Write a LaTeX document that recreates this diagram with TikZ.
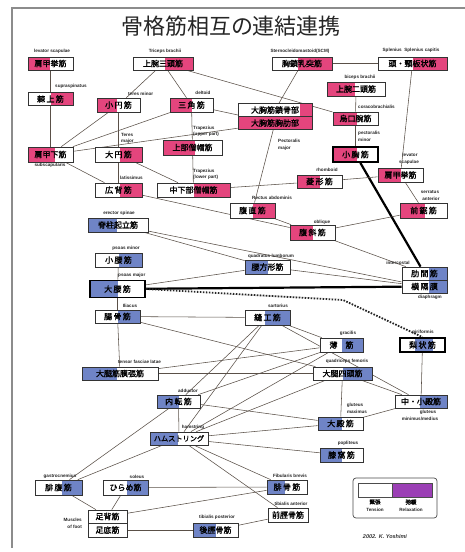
\documentclass[tikz,border=0pt]{standalone}
\usepackage{fontspec}
\newfontfamily\jp[AutoFakeBold=1.5]{Noto Sans CJK JP}
\newfontfamily\lab{Liberation Sans}
\usetikzlibrary{calc}
\definecolor{tc}{HTML}{E4457D}
\definecolor{rc}{HTML}{6F84C6}
\definecolor{lc}{HTML}{5A5048}
\definecolor{pur}{HTML}{9B3FB5}
\pgfdeclarelayer{bg}
\pgfsetlayers{bg,main}
\tikzset{
 mb/.style={draw=black!80, line width=0.7pt, fill=white, inner sep=0pt, font=\jp\bfseries\fontsize{8}{9}\selectfont},
 thickbox/.style={line width=1.8pt, draw=black},
 fp/.style n args={3}{path picture={\fill[#1] ($(path picture bounding box.north west)!#2!(path picture bounding box.north east)$) rectangle ($(path picture bounding box.south west)!#3!(path picture bounding box.south east)$);}},
 lb/.style={font=\lab\bfseries\fontsize{4.6}{5}\selectfont, inner sep=0pt, text=black!85},
 ln/.style={draw=lc, line width=0.55pt},
 thk/.style={draw=black, line width=2.2pt},
 dotl/.style={draw=black!85, line width=1.8pt, dash pattern=on 1.6pt off 1.4pt},
}
\begin{document}
\begin{tikzpicture}[x=1pt,y=-1pt]
\useasboundingbox (0,0) rectangle (465,552);
\begin{pgfonlayer}{bg}
\fill[white] (0,0) rectangle (465,552);
\end{pgfonlayer}
\coordinate (fa) at (465,8);
\coordinate (fb) at (12,8);
\coordinate (fc) at (12,548);
\draw[black!45, line width=1.6pt] (fa) -- (fb) -- (fc);
\node[font=\jp\fontsize{22}{24}\selectfont, inner sep=0pt, text=black!85] (title) at (231,26) {骨格筋相互の連結連携};

% ---- boxes ----
\node[mb, minimum width=45, minimum height=13, fp={tc}{0}{0.48}] (levsc1) at (50.5,63.5) {肩甲挙筋};
\node[mb, minimum width=45, minimum height=13, fp={tc}{0.5}{1}] (supra) at (50.5,99) {棘\,上\,筋};
\node[mb, minimum width=60, minimum height=13, fp={tc}{0.53}{1}] (triceps) at (163,63.5) {上腕三頭筋};
\node[mb, minimum width=43, minimum height=14, fp={tc}{0}{0.47}] (teresminor) at (118.5,105) {小\,円\,筋};
\node[mb, minimum width=43, minimum height=14, fp={tc}{0}{0.5}] (deltoid) at (191.5,105) {三\,角\,筋};
\node[mb, minimum width=60, minimum height=13, fp={tc}{0.43}{1}] (scm) at (302,63.5) {胸鎖乳突筋};
\node[mb, minimum width=69, minimum height=13, fp={tc}{0.5}{1}] (splen) at (412.5,63.5) {頭・頸板状筋};
\node[mb, minimum width=58, minimum height=14, fp={tc}{0}{0.48}] (biceps) at (356,89) {上腕二頭筋};
\node[mb, minimum width=45, minimum height=13, fp={tc}{0}{0.53}] (coraco) at (355.5,118.5) {烏口腕筋};
\node[mb, minimum width=74, minimum height=13, fp={tc}{0.84}{1}] (pecmaj1) at (275,110) {大胸筋鎖骨部};
\node[mb, minimum width=74, minimum height=13, fp={tc}{0}{1}] (pecmaj2) at (275,123) {大胸筋胸肋部};
\node[mb, minimum width=45, minimum height=15, fp={tc}{0}{0.6}] (subsc) at (50.5,154.5) {肩甲下筋};
\node[mb, minimum width=47, minimum height=15, fp={tc}{0.53}{1}] (teresmajor) at (118.5,154.5) {大\,円\,筋};
\node[mb, minimum width=59, minimum height=15, fp={tc}{0}{0.55}] (trapupper) at (192.5,147.5) {上部僧帽筋};
\node[mb, thickbox, minimum width=45, minimum height=15, fp={tc}{0}{0.53}] (pecmin) at (355.5,154.5) {小\,胸\,筋};
\node[mb, minimum width=47, minimum height=14, fp={tc}{0.53}{1}] (latis) at (118.5,190) {広\,背\,筋};
\node[mb, minimum width=73, minimum height=14, fp={tc}{0.5}{1}] (traplower) at (193.5,190) {中下部僧帽筋};
\node[mb, minimum width=45, minimum height=13, fp={tc}{0}{0.5}] (rhomb) at (319.5,181.5) {菱\,形\,筋};
\node[mb, minimum width=45, minimum height=14, fp={tc}{0}{0.5}] (levsc2) at (400.5,175) {肩甲挙筋};
\node[mb, minimum width=47, minimum height=15, fp={tc}{0}{0.53}] (serr) at (423.5,210.5) {前\,鋸\,筋};
\node[mb, minimum width=45, minimum height=15, fp={tc}{0.5}{1}] (rectus) at (252.5,210.5) {腹\,直\,筋};
\node[mb, minimum width=45, minimum height=15, fp={tc}{0}{0.5}] (obliq) at (312.5,232.5) {腹\,斜\,筋};
\node[mb, minimum width=60, minimum height=14, fp={rc}{0}{0.48}] (erector) at (118,225) {脊柱起立筋};
\node[mb, minimum width=47, minimum height=14, fp={rc}{0.5}{1}] (psoasmin) at (118.5,260) {小\,腰\,筋};
\node[mb, minimum width=45, minimum height=14, fp={rc}{0}{0.5}] (quadl) at (267.5,267) {腰方形筋};
\node[mb, minimum width=45, minimum height=13, fp={rc}{0.6}{1}] (interc) at (424.5,273.5) {肋\,間\,筋};
\node[mb, minimum width=45, minimum height=13, fp={rc}{0.6}{1}] (diaph) at (424.5,286.5) {横\,隔\,膜};
\node[mb, thickbox, minimum width=55, minimum height=17, fp={rc}{0}{0.5}] (psoasmaj) at (117.5,289) {大\,腰\,筋};
\node[mb, minimum width=45, minimum height=13, fp={rc}{0.5}{1}] (iliac) at (117.5,316.5) {腸\,骨\,筋};
\node[mb, minimum width=45, minimum height=15, fp={rc}{0.45}{1}] (sartor) at (267.5,317.5) {縫\,工\,筋};
\node[mb, minimum width=43, minimum height=14, fp={rc}{0.5}{1}] (gracil) at (341.5,345) {薄\quad 筋};
\node[mb, thickbox, minimum width=45, minimum height=14, fp={rc}{0.33}{0.73}] (pirif) at (422.5,345) {梨\,状\,筋};
\node[mb, minimum width=76, minimum height=13, fp={rc}{0}{0.46}] (tensor) at (120,373.5) {大腿筋膜張筋};
\node[mb, minimum width=59, minimum height=13, fp={rc}{0.5}{1}] (quadf) at (342.5,373.5) {大腿四頭筋};
\node[mb, minimum width=43, minimum height=13, fp={rc}{0}{0.5}] (adduc) at (178.5,401.5) {内\,転\,筋};
\node[mb, minimum width=52, minimum height=13, fp={rc}{0.48}{1}] (glutmed) at (421,401.5) {中・小殿筋};
\node[mb, minimum width=45, minimum height=13, fp={rc}{0}{0.53}] (glutmax) at (340.5,423.5) {大\,殿\,筋};
\node[mb, minimum width=58, minimum height=13, fp={rc}{0}{0.48}, font=\jp\bfseries\fontsize{7.2}{8}\selectfont] (hams) at (179,438.5) {ハムストリング};
\node[mb, minimum width=43, minimum height=14, fp={rc}{0}{0.5}] (poplit) at (341.5,455) {膝\,窩\,筋};
\node[mb, minimum width=47, minimum height=15, fp={rc}{0.57}{1}] (gastro) at (58.5,487.5) {腓\,腹\,筋};
\node[mb, minimum width=45, minimum height=15, fp={rc}{0.53}{1}] (soleus) at (125.5,487.5) {ひらめ筋};
\node[mb, minimum width=39, minimum height=13] (foot1) at (107.5,516.5) {足背筋};
\node[mb, minimum width=39, minimum height=14] (foot2) at (107.5,530) {足底筋};
\node[mb, minimum width=40, minimum height=14, fp={rc}{0}{0.45}] (fibul) at (287,487) {腓\,骨\,筋};
\node[mb, minimum width=40, minimum height=14] (tibant) at (288,515) {前脛骨筋};
\node[mb, minimum width=45, minimum height=14, fp={rc}{0}{0.5}] (tibpost) at (215.5,530) {後脛骨筋};

% ---- labels ----
\node[lb] (L1) at (52,51) {levator scapulae};
\node[lb, anchor=west] (L2) at (55,86) {supraspinatus};
\node[lb] (L3) at (165,51) {Triceps brachii};
\node[lb, anchor=west] (L4) at (128,94) {teres minor};
\node[lb] (L5) at (203,93) {deltoid};
\node[lb] (L6) at (300,51) {Sternocleidomastoid(SCM)};
\node[lb] (L7) at (411,50) {Splenius\ \ Splenius capitis};
\node[lb] (L8) at (360,77) {biceps brachii};
\node[lb, anchor=west] (L9) at (358,107) {coracobrachialis};
\node[lb, anchor=west] (L10) at (278,141) {Pectoralis};
\node[lb, anchor=west] (L11) at (278,148) {major};
\node[lb, anchor=west] (L12) at (121,135) {Teres};
\node[lb, anchor=west] (L13) at (121,141) {major};
\node[lb] (L14) at (50,165.5) {subscapularis};
\node[lb, anchor=west] (L15) at (193,128) {Trapezius};
\node[lb, anchor=west] (L16) at (193,134) {(upper part)};
\node[lb, anchor=west] (L17) at (358,133) {pectoralis};
\node[lb, anchor=west] (L18) at (358,140) {minor};
\node[lb, anchor=west] (L19) at (120,178) {latissimus};
\node[lb, anchor=west] (L20) at (193,171) {Trapezius};
\node[lb, anchor=west] (L21) at (193,177) {(lower part)};
\node[lb] (L22) at (327,170) {rhomboid};
\node[lb] (L23) at (410,155) {levator};
\node[lb] (L24) at (409,162) {scapulae};
\node[lb] (L25) at (430,192) {serratus};
\node[lb] (L26) at (431,198.5) {anterior};
\node[lb, anchor=west] (L27) at (252,198) {Rectus abdominis};
\node[lb] (L28) at (322,222) {oblique};
\node[lb] (L29) at (119,213) {erector spinae};
\node[lb] (L30) at (126,248) {psoas minor};
\node[lb] (L31) at (271,256) {quadratus lumborum};
\node[lb] (L32) at (398,262.5) {intercostal};
\node[lb] (L33) at (430,297.5) {diaphragm};
\node[lb, anchor=west] (L34) at (118,275) {psoas major};
\node[lb] (L35) at (130,305.5) {Iliacus};
\node[lb] (L36) at (278,305.5) {sartorius};
\node[lb] (L37) at (348,333) {gracilis};
\node[lb] (L38) at (423,332) {piriformis};
\node[lb, anchor=west] (L39) at (118,362) {tensor fasciae latae};
\node[lb] (L40) at (347,361) {quadriceps femoris};
\node[lb] (L41) at (188,391) {adductor};
\node[lb] (L42) at (428,412.5) {gluteus};
\node[lb] (L43) at (420,419) {minimus/medius};
\node[lb] (L44) at (355,405) {gluteus};
\node[lb] (L45) at (357,411.5) {maximus};
\node[lb] (L46) at (193,427.5) {hamstring};
\node[lb] (L47) at (348,443.5) {popliteus};
\node[lb] (L48) at (60,476.5) {gastrocnemius};
\node[lb] (L49) at (137,476.5) {soleus};
\node[lb, anchor=east] (L50) at (82,520) {Muscles};
\node[lb, anchor=east] (L51) at (82,527) {of foot};
\node[lb] (L52) at (290,475.5) {Fibularis brevis};
\node[lb] (L53) at (291,503.5) {tibialis anterior};
\node[lb] (L54) at (217,517.5) {tibialis posterior};

% ---- legend ----
\node[draw=black!70, line width=0.7pt, rounded corners=3pt, minimum width=84, minimum height=40, inner sep=0pt] (leg) at (395,498) {};
\node[draw=black!70, line width=0.6pt, fill=white, minimum width=34, minimum height=14, inner sep=0pt] (legw) at (375,490) {};
\node[draw=black!70, line width=0.6pt, fill=pur, minimum width=40, minimum height=14, inner sep=0pt] (legp) at (412,490) {};
\node[font=\jp\bfseries\fontsize{5.5}{6}\selectfont, inner sep=0pt] (legt1) at (375,502) {緊張};
\node[font=\jp\bfseries\fontsize{5.5}{6}\selectfont, inner sep=0pt] (legt2) at (411,502) {弛緩};
\node[lb] (legt3) at (375,509.5) {Tension};
\node[lb] (legt4) at (411,509.5) {Relaxation};
\node[font=\lab\bfseries\itshape\fontsize{5.5}{6}\selectfont, inner sep=0pt, text=black!80] (sign) at (385,537) {2002. K. Yoshimi};

% ---- connectors ----
\begin{pgfonlayer}{bg}
\draw[ln] (levsc1) -- (supra);
\draw[ln] (supra) -- (subsc);
\draw[ln] (triceps) -- (teresminor);
\draw[ln] (triceps) -- (deltoid);
\draw[ln] (deltoid) -- (pecmaj2);
\draw[ln] (triceps) -- (coraco);
\draw[ln] (scm) -- (pecmaj1);
\draw[ln] (scm) -- (splen);
\draw[ln] (splen) -- (levsc2);
\draw[ln] (biceps) -- (coraco);
\draw[ln] (coraco) -- (pecmin);
\draw[thk] (pecmin) -- (interc);
\draw[ln] (teresminor) -- (teresmajor);
\draw[ln] (teresmajor) -- (latis);
\draw[ln] (teresmajor) -- (traplower);
\draw[ln] (subsc) -- (teresminor);
\draw[ln] (subsc) -- (deltoid);
\draw[ln] (subsc) -- (pecmaj2);
\draw[ln] (subsc) -- (latis);
\draw[ln] (deltoid) -- (trapupper);
\draw[ln] (trapupper) -- (traplower);
\draw[ln] (traplower) -- (rhomb);
\draw[ln] (rhomb) -- (levsc2);
\draw[ln] (levsc2) -- (serr);
\draw[ln] (serr) -- (obliq);
\draw[ln] (pecmaj2) -- (rectus);
\draw[ln] (rectus) -- (obliq);
\draw[ln] (obliq) -- (interc);
\draw[ln] (latis) -- (obliq);
\draw[ln] (erector) -- (quadl);
\draw[ln] (erector) -- (diaph);
\draw[ln] (quadl) -- (diaph);
\draw[ln] (psoasmaj) -- (quadl);
\draw[thk] (psoasmaj) -- (diaph);
\coordinate (dk) at (343,300);
\draw[dotl] (psoasmaj.east) -- (dk) -- (pirif.north);
\draw[ln] (psoasmin) -- (psoasmaj);
\draw[ln] (psoasmaj) -- (iliac);
\draw[ln] (iliac) -- (tensor);
\draw[ln] (iliac) -- (sartor);
\draw[ln] (iliac) -- (quadf);
\draw[ln] (tensor) -- (quadf);
\draw[ln] (sartor) -- (adduc);
\draw[ln] (sartor) -- (hams);
\draw[ln] (sartor) -- (gracil);
\draw[ln] (sartor) -- (glutmed);
\draw[ln] (gracil) -- (adduc);
\draw[ln] (gracil) -- (hams);
\draw[ln] (gracil) -- (tensor);
\draw[ln] (quadf) -- (hams);
\draw[ln] (quadf) -- (glutmax);
\draw[ln] (quadf) -- (glutmed);
\draw[ln] (pirif) -- (glutmed);
\draw[ln] (glutmax) -- (glutmed);
\draw[ln] (adduc) -- (hams);
\draw[ln] (adduc) -- (glutmax);
\draw[ln] (hams) -- (poplit);
\draw[ln] (hams) -- (glutmax);
\draw[ln] (gastro) -- (adduc);
\draw[ln] (gastro) -- (hams);
\draw[ln] (gastro) -- (foot1);
\draw[ln] (soleus) -- (foot1);
\draw[ln] (soleus) -- (fibul);
\draw[ln] (foot1) -- (fibul);
\draw[ln] (foot2) -- (tibpost);
\draw[ln] (tibpost) -- (tibant);
\draw[ln] (hams) -- (fibul);
\draw[ln] (hams) -- (tibant);
\end{pgfonlayer}
\end{tikzpicture}
\end{document}
